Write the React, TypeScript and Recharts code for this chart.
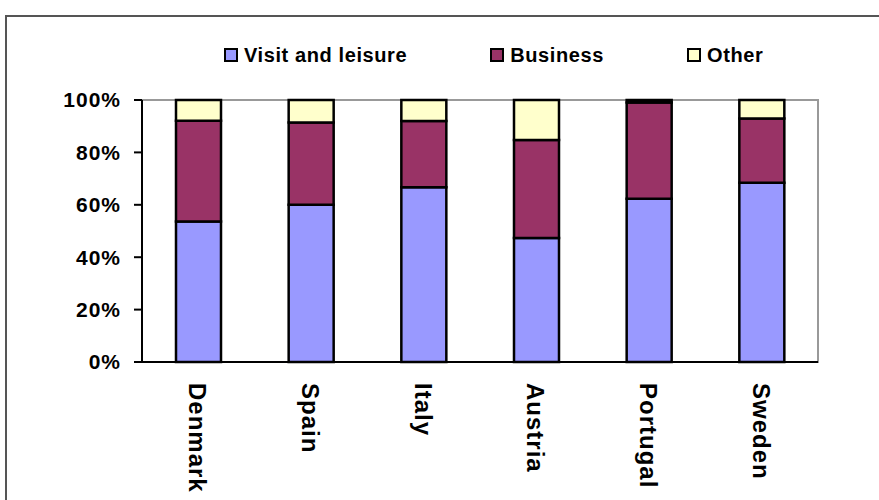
import React from 'react';
import { BarChart, Bar, XAxis, YAxis, Legend, ReferenceArea } from 'recharts';

const countries = ['Denmark', 'Spain', 'Italy', 'Austria', 'Portugal', 'Sweden'];
const visitLeisure = [53.6, 60.0, 66.7, 47.3, 62.3, 68.4];
const business = [38.5, 31.4, 25.3, 37.4, 36.7, 24.5];
const other = [7.9, 8.6, 8.0, 15.3, 1.0, 7.1];
const yTicks = [0, 0.2, 0.4, 0.6, 0.8, 1];

const seriesNames = ['Visit and leisure', 'Business', 'Other'];
const seriesColors = ['#9999FF', '#993366', '#FFFFCC'];

const FONT = '"Liberation Sans", Arial, sans-serif';

const chartData = countries.map((country, i) => ({
  country,
  visit: visitLeisure[i],
  business: business[i],
  other: other[i],
}));

const CountryTick = (props: any) => {
  const { x, y, payload } = props;
  const ty = y + 21;
  return (
    <text
      x={x}
      y={ty}
      dy={9}
      transform={`rotate(90, ${x}, ${ty})`}
      textAnchor="start"
      fontFamily={FONT}
      fontWeight="bold"
      fontSize={24}
      letterSpacing={1}
      fill="#000"
    >
      {payload.value}
    </text>
  );
};

const LegendContent = () => (
  <div style={{ display: 'flex', alignItems: 'center', fontFamily: FONT }}>
    {seriesNames.map((name, i) => (
      <div key={name} style={{ display: 'flex', alignItems: 'center', marginRight: i < seriesNames.length - 1 ? 83 : 0 }}>
        <span
          style={{
            width: 10,
            height: 10,
            background: seriesColors[i],
            border: '2px solid #000',
            display: 'inline-block',
            marginRight: 6,
          }}
        />
        <span style={{ fontSize: 20, fontWeight: 'bold', letterSpacing: 0.6, color: '#000', lineHeight: '20px', whiteSpace: 'nowrap' }}>
          {name}
        </span>
      </div>
    ))}
  </div>
);

export default function App() {
  return (
    <div style={{ position: 'absolute', left: 0, top: 0, width: 879, height: 500, background: '#fff', overflow: 'hidden' }}>
      <div
        style={{
          position: 'absolute',
          left: 5,
          top: 15,
          width: 874,
          height: 485,
          boxSizing: 'border-box',
          borderTop: '2px solid #555',
          borderLeft: '2px solid #555',
        }}
      />
      <BarChart
        width={879}
        height={500}
        data={chartData}
        stackOffset="expand"
        margin={{ top: 100, right: 61, bottom: 8, left: 62 }}
        barSize={45}
      >
        <ReferenceArea y1={0} y2={1} fill="none" stroke="#999" strokeWidth={2} ifOverflow="visible" />
        <XAxis
          dataKey="country"
          height={130}
          axisLine={{ stroke: '#000', strokeWidth: 2 }}
          tickLine={false}
          tickSize={0}
          tickMargin={0}
          tick={<CountryTick />}
          interval={0}
        />
        <YAxis
          width={80}
          domain={[0, 1]}
          ticks={yTicks}
          tickFormatter={(v: number) => `${Math.round(v * 100)}%`}
          axisLine={{ stroke: '#000', strokeWidth: 2 }}
          tickLine={{ stroke: '#000', strokeWidth: 2 }}
          tickSize={8}
          tickMargin={13}
          tick={{ fontFamily: FONT, fontWeight: 'bold', fontSize: 21, fill: '#000', letterSpacing: 1 }}
        />
        <Legend
          verticalAlign="middle"
          align="center"
          content={<LegendContent />}
          wrapperStyle={{ position: 'absolute', top: 45, left: 224, width: 'auto' }}
        />
        <Bar dataKey="visit" name={seriesNames[0]} stackId="a" fill={seriesColors[0]} stroke="#000" strokeWidth={2.5} isAnimationActive={false} />
        <Bar dataKey="business" name={seriesNames[1]} stackId="a" fill={seriesColors[1]} stroke="#000" strokeWidth={2.5} isAnimationActive={false} />
        <Bar dataKey="other" name={seriesNames[2]} stackId="a" fill={seriesColors[2]} stroke="#000" strokeWidth={2.5} isAnimationActive={false} />
      </BarChart>
    </div>
  );
}
